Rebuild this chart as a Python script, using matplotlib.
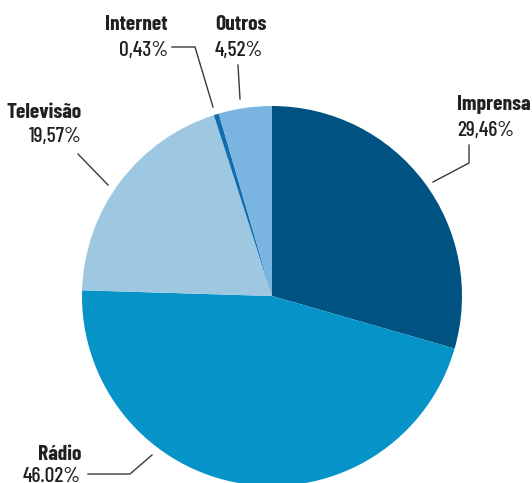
import matplotlib
matplotlib.use("Agg")
import matplotlib.pyplot as plt

# Share of advertising investment by medium
media = ["Imprensa", "Rádio", "Televisão", "Internet", "Outros"]
shares = [29.46, 46.02, 19.57, 0.43, 4.52]
share_labels = ["29,46%", "46.02%", "19,57%", "0,43%", "4,52%"]
colors = ["#005283", "#0693c8", "#9ec8e1", "#0f6db0", "#7ab5e2"]

W, H = 532, 483

plt.rcParams["font.family"] = ["Barlow Condensed", "DejaVu Sans"]

fig = plt.figure(figsize=(W / 100, H / 100), dpi=100)
ax = fig.add_axes([0, 0, 1, 1])

# pie in pixel units, clockwise from 12 o'clock
ax.pie(shares, colors=colors, startangle=90, counterclock=False,
       center=(272, H - 296), radius=190, frame=True,
       wedgeprops=dict(linewidth=0))
ax.set_xlim(0, W)
ax.set_ylim(0, H)
ax.set_aspect("equal")
ax.axis("off")

txt = "#231f20"
# (name x, name y, value y, alignment, leader line points)
labels = {
    "Imprensa": (457, 103, 129, "left", [(469, 145), (469, 163), (433, 182)]),
    "Rádio": (81, 452, 474, "right", [(88, 474), (130, 474), (152, 455)]),
    "Televisão": (82, 110, 135, "right", [(78, 154), (108, 185)]),
    "Internet": (168, 22, 48, "right", [(172, 47), (195, 47), (213, 107)]),
    "Outros": (215, 22, 48, "left", [(238, 65), (240, 99)]),
}

for name, value in zip(media, share_labels):
    x, yn, yv, ha, pts = labels[name]
    ax.text(x, H - yn, name, ha=ha, va="center_baseline", fontsize=15.5,
            fontweight="bold", color=txt)
    ax.text(x, H - yv, value, ha=ha, va="center_baseline", fontsize=15.5,
            fontweight="medium", color=txt)
    ax.plot([p[0] for p in pts], [H - p[1] for p in pts],
            color="#3a3a3a", linewidth=1)

fig.savefig("out.png", dpi=100)
